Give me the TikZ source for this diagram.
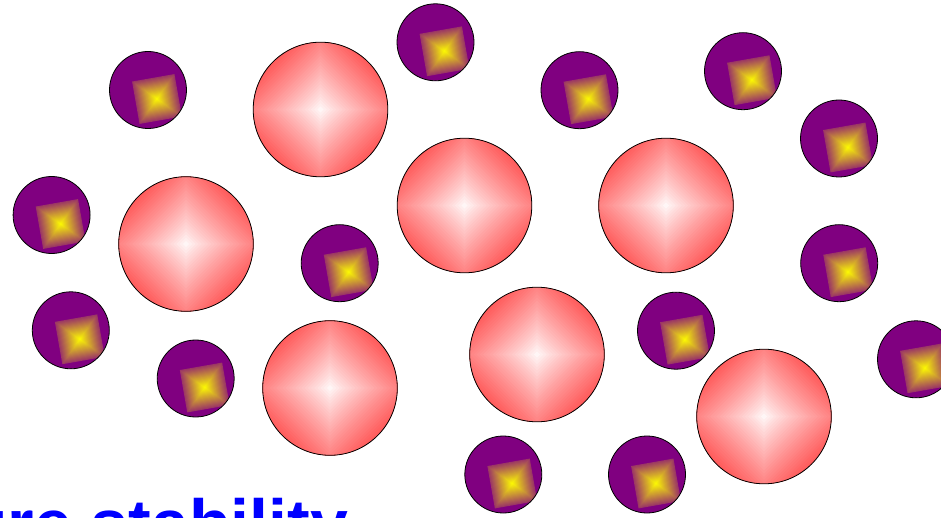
\documentclass[tikz,border=0pt]{standalone}
\usepackage{fontspec}
\setmainfont{Liberation Sans}
\definecolor{mypurple}{RGB}{128,0,128}
\definecolor{ballred}{RGB}{255,92,92}
\tikzset{
  rim/.style={draw=black, line width=0.8pt},
  caption/.style={anchor=base west, inner sep=0pt, text=blue,
    font=\fontsize{68}{68}\selectfont\bfseries}
}
\newcommand{\SmallBall}[3]{%
  \coordinate (#1) at (#2,#3);
  \begin{scope}
    \clip (#1) circle (38.5);
    \fill[mypurple] (#1) circle (38.5);
    \begin{scope}[shift={(#2+9,#3+9)}, rotate=10]
      \foreach \k in {20,...,1}{%
        \pgfmathsetmacro\pct{78*\k/20}%
        \pgfmathsetmacro\hs{21.5*\k/20}%
        \fill[mypurple!\pct!yellow] (-\hs,-\hs) rectangle (\hs,\hs);
      }
    \end{scope}
  \end{scope}
  \draw[rim] (#1) circle (38.5);
}
\newcommand{\BigBall}[3]{%
  \coordinate (#1) at (#2,#3);
  \begin{scope}
    \clip (#1) circle (67.3);
    \fill[ballred] (#1) circle (67.3);
    \begin{scope}[shift={(#2,#3)}, rotate=45]
      \foreach \k in {30,...,1}{%
        \pgfmathsetmacro\pct{100*(\k/30)^0.85}%
        \pgfmathsetmacro\hs{67.3*\k/30}%
        \fill[ballred!\pct!white] (-\hs,-\hs) rectangle (\hs,\hs);
      }
    \end{scope}
  \end{scope}
  \draw[rim] (#1) circle (67.3);
}
\begin{document}
\begin{tikzpicture}[x=1pt, y=-1pt]
\useasboundingbox (0,0) rectangle (941,518);
\fill[white] (0,0) rectangle (941,518);
\clip (0,0) rectangle (941,518);
% large pink balls
\BigBall{A}{320.5}{109.5}
\BigBall{B}{186}{244}
\BigBall{C}{464.5}{205.5}
\BigBall{D}{666}{205.5}
\BigBall{E}{330}{388}
\BigBall{F}{537}{354.5}
\BigBall{G}{764}{416.5}
% small purple balls
\SmallBall{s1}{148}{90}
\SmallBall{s2}{435.5}{42.3}
\SmallBall{s3}{579.5}{90.2}
\SmallBall{s4}{743}{71.2}
\SmallBall{s5}{839}{138.5}
\SmallBall{s6}{51.6}{215}
\SmallBall{s7}{339.7}{263.2}
\SmallBall{s8}{839.2}{263.2}
\SmallBall{s9}{70.8}{330.3}
\SmallBall{s10}{195.7}{378.5}
\SmallBall{s11}{676}{330.7}
\SmallBall{s12}{916}{359.3}
\SmallBall{s13}{503.3}{474.5}
\SmallBall{s14}{647}{474.5}
% caption (cut off by the frame, as in the reference)
\node[caption] (cap) at (-34,547) {ure stability};
\end{tikzpicture}
\end{document}
